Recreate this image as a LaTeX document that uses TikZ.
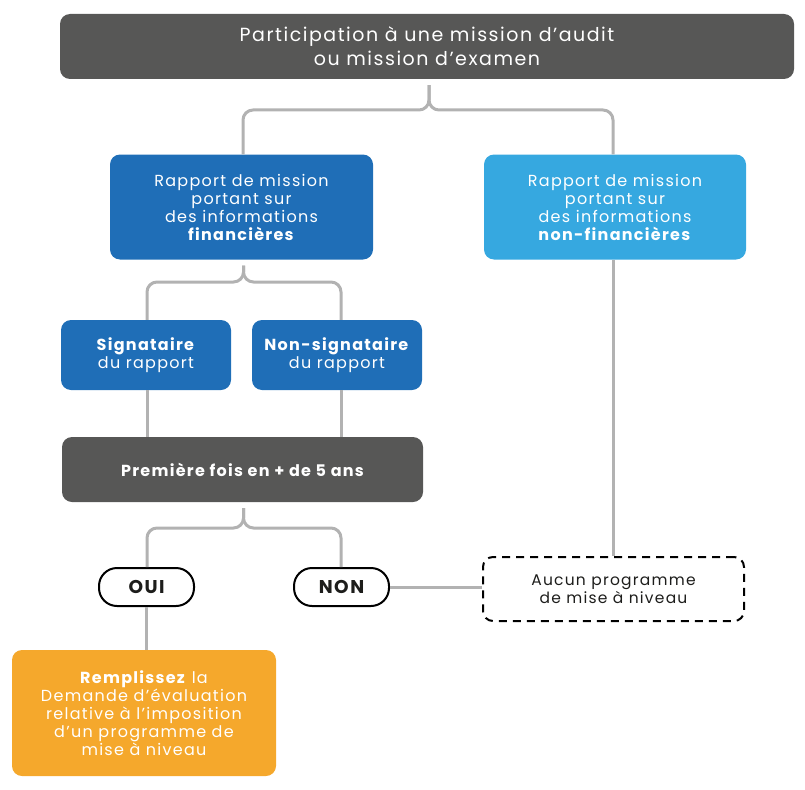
\documentclass[tikz,border=0pt]{standalone}
\usepackage{fontspec}
\setmainfont{Poppins}[LetterSpace=8]
\usetikzlibrary{calc}
\definecolor{dgray}{HTML}{575756}
\definecolor{dblue}{HTML}{1F6EB7}
\definecolor{lblue}{HTML}{36A8E0}
\definecolor{orng}{HTML}{F5A82C}
\definecolor{lgray}{HTML}{B2B2B2}
\definecolor{txtdark}{HTML}{1D1D1B}
\tikzset{
  box/.style={rounded corners=10, text=white, align=center, inner sep=0pt, draw=none},
  conn/.style={draw=lgray, line width=3pt, rounded corners=10},
  pill/.style={draw=black, line width=2pt, fill=white, rounded corners=18, inner sep=0pt, minimum width=95, minimum height=38, font=\fontsize{18.5}{20}\selectfont\bfseries, text=txtdark},
  dbox/.style={draw=black, line width=2pt, dash pattern=on 8pt off 6pt, rounded corners=10, align=center, inner sep=0pt, text=txtdark, font=\fontsize{15.5}{18}\selectfont},
  txt16/.style={font=\fontsize{16}{18}\selectfont}
}
\begin{document}
\begin{tikzpicture}[x=1pt,y=-1pt]
\useasboundingbox (0,0) rectangle (805,789);
% nodes
\node[box, fill=dgray, minimum width=734, minimum height=65, font=\fontsize{19}{24}\selectfont] (top) at (427,46.5) {Participation à une mission d’audit\\ou mission d’examen};
\node[box, fill=dblue, minimum width=263, minimum height=105, txt16] (fin) at (241.5,207) {Rapport de mission\\portant sur\\des informations\\\textbf{financières}};
\node[box, fill=lblue, minimum width=262, minimum height=105, txt16] (nfin) at (615,207) {Rapport de mission\\portant sur\\des informations\\\textbf{non-financières}};
\node[box, fill=dblue, minimum width=170, minimum height=70, txt16] (sig) at (146,355) {\textbf{Signataire}\\du rapport};
\node[box, fill=dblue, minimum width=170, minimum height=70, txt16] (nsig) at (337,355) {\textbf{Non-signataire}\\du rapport};
\node[box, fill=dgray, minimum width=361, minimum height=65, font=\fontsize{16}{18}\selectfont\bfseries] (prem) at (242.5,469.5) {Première fois en + de 5 ans};
\node[pill] (oui) at (146.5,587) {OUI};
\node[pill] (non) at (341.5,587) {NON};
\node[dbox, minimum width=261, minimum height=64] (aucun) at (613.5,589) {Aucun programme\\de mise à niveau};
\node[box, fill=orng, minimum width=264, minimum height=126, txt16] (remp) at (144,713) {\textbf{Remplissez} la\\Demande d’évaluation\\relative à l’imposition\\d’un programme de\\mise à niveau};
% helper coordinates
\coordinate (b1) at ($(top.south)+(2,6)$);
\coordinate (h1) at (0,110);
\coordinate (finx) at (243,0);
\coordinate (nfinx) at (613,0);
\coordinate (b2) at ($(fin.south)+(2,6)$);
\coordinate (h2) at (0,282);
\coordinate (b3) at ($(prem.south)+(1,6)$);
\coordinate (h3) at (0,528);
\coordinate (sigx) at (147,0);
\coordinate (nsigx) at (341,0);
% connectors
\draw[conn] (b1) -- (b1 |- h1) -- (finx |- h1) -- (finx |- fin.north);
\draw[conn] (b1) -- (b1 |- h1) -- (nfinx |- h1) -- (nfinx |- nfin.north);
\draw[conn] (b2) -- (b2 |- h2) -- (sigx |- h2) -- (sigx |- sig.north);
\draw[conn] (b2) -- (b2 |- h2) -- (nsigx |- h2) -- (nsigx |- nsig.north);
\draw[conn] (sigx |- sig.south) -- (sigx |- prem.north);
\draw[conn] (nsigx |- nsig.south) -- (nsigx |- prem.north);
\draw[conn] (b3) -- (b3 |- h3) -- (sigx |- h3) -- (sigx |- oui.north);
\draw[conn] (b3) -- (b3 |- h3) -- (nsigx |- h3) -- (nsigx |- non.north);
\draw[conn] (non.east) -- (aucun.west |- non.east);
\draw[conn] (nfinx |- nfin.south) -- (nfinx |- aucun.north);
\draw[conn] (oui.south) -- (oui.south |- remp.north);
\end{tikzpicture}
\end{document}
